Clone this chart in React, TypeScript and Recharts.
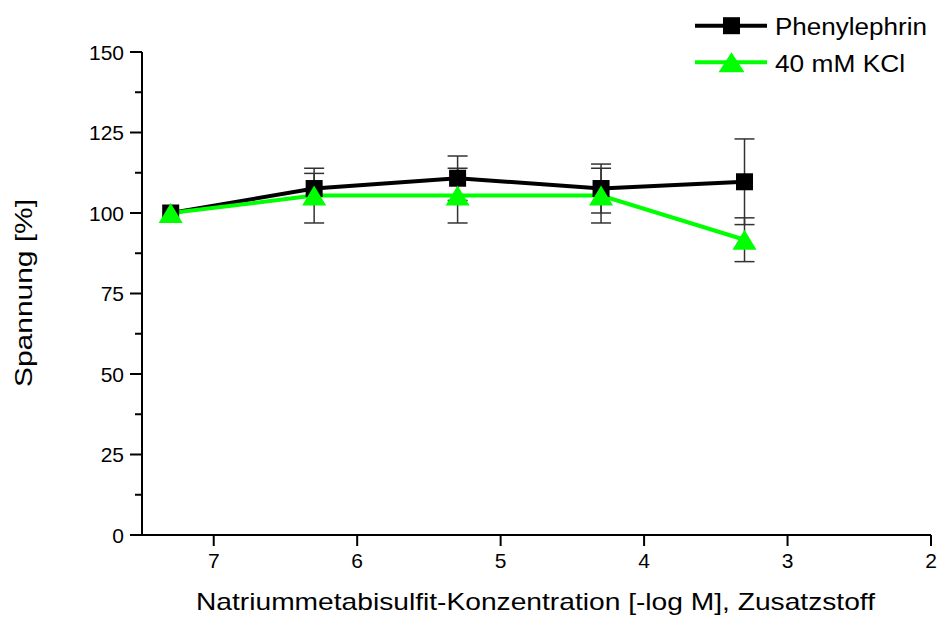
import { LineChart, Line, XAxis, YAxis, ErrorBar, Legend, Label } from 'recharts'

const concentrations = [7.3, 6.3, 5.3, 4.3, 3.3]
const phenylephrin = [100, 107.6, 110.8, 107.6, 109.7]
const phenylephrinErr = [0, 4.7, 6.9, 7.6, 13.3]
const kcl = [100, 105.4, 105.4, 105.4, 91.7]
const kclErr = [0, 8.5, 8.5, 8.5, 6.8]

const xTicks = [7, 6, 5, 4, 3, 2]
const yMajorTicks = [0, 25, 50, 75, 100, 125, 150]
const yMinorTicks = [12.5, 37.5, 62.5, 87.5, 112.5, 137.5]

const seriesNames = ['Phenylephrin', '40 mM KCl']
const xTitle = 'Natriummetabisulfit-Konzentration [-log M], Zusatzstoff'
const yTitle = 'Spannung [%]'

const data = concentrations.map((x, i) => ({
  x,
  phen: phenylephrin[i],
  phenErr: phenylephrinErr[i],
  kcl: kcl[i],
  kclErr: kclErr[i],
}))

const FONT = '"Liberation Sans", Arial, sans-serif'
const GREEN = '#00ff00'
const Y_TICK_SIZE = 12
const Y_TICK_MARGIN = 6

const SquareDot = (props: any) => {
  const { cx, cy, index } = props
  if (cx == null || cy == null) return <g key={`sq-${index}`} />
  return <rect key={`sq-${index}`} x={cx - 8.5} y={cy - 8.5} width={17} height={17} fill="#000" />
}

const TriangleDot = (props: any) => {
  const { cx, cy, index } = props
  if (cx == null || cy == null) return <g key={`tr-${index}`} />
  return (
    <polygon
      key={`tr-${index}`}
      points={`${cx},${cy - 10} ${cx + 12},${cy + 10} ${cx - 12},${cy + 10}`}
      fill={GREEN}
    />
  )
}

const YTick = (props: any) => {
  const { x, y, payload } = props
  const major = yMajorTicks.includes(payload.value)
  const axisX = x + Y_TICK_MARGIN + Y_TICK_SIZE
  return (
    <g>
      <line x1={axisX - (major ? 12 : 7)} x2={axisX} y1={y} y2={y} stroke="#000" strokeWidth={2} />
      {major && (
        <text x={x} y={y} dy="0.36em" textAnchor="end" fontSize={21} fontFamily={FONT} fill="#000">
          {payload.value}
        </text>
      )}
    </g>
  )
}

const legendLengths = [152, 130]

const LegendContent = (props: any) => {
  const { payload = [] } = props
  return (
    <svg width={250} height={80} style={{ display: 'block' }}>
      {payload.map((item: any) => {
        const i = seriesNames.indexOf(item.value)
        const cy = i === 0 ? 25.7 : 62.3
        const color = i === 0 ? '#000' : GREEN
        return (
          <g key={item.value}>
            <line x1={5} x2={77} y1={cy} y2={cy} stroke={color} strokeWidth={4} />
            {i === 0 ? (
              <rect x={33} y={cy - 8.5} width={17} height={17} fill="#000" />
            ) : (
              <polygon points={`41.5,${cy - 10} 54.5,${cy + 10} 28.5,${cy + 10}`} fill={GREEN} />
            )}
            <text
              x={85}
              y={cy + 9.5}
              fontSize={23}
              fontFamily={FONT}
              fill="#000"
              textLength={legendLengths[i]}
              lengthAdjust="spacingAndGlyphs"
            >
              {item.value}
            </text>
          </g>
        )
      })}
    </svg>
  )
}

export default function App() {
  return (
    <div style={{ position: 'absolute', left: 0, top: 0, width: 940, height: 642, background: '#fff' }}>
      <LineChart width={940} height={642} data={data} margin={{ top: 52, right: 9, bottom: 77, left: 0 }}>
        <XAxis
          dataKey="x"
          type="number"
          domain={[2, 7.5]}
          reversed
          ticks={xTicks}
          interval={0}
          height={30}
          tickSize={11}
          tickMargin={7}
          axisLine={{ stroke: '#000', strokeWidth: 2 }}
          tickLine={{ stroke: '#000', strokeWidth: 2 }}
          tick={{ fontSize: 21, fontFamily: FONT, fill: '#000' }}
        >
          <Label
            content={() => (
              <text
                x={535.5}
                y={610}
                textAnchor="middle"
                fontSize={24}
                fontFamily={FONT}
                fill="#000"
                textLength={679}
                lengthAdjust="spacingAndGlyphs"
              >
                {xTitle}
              </text>
            )}
          />
        </XAxis>
        <YAxis
          type="number"
          domain={[0, 150]}
          ticks={[...yMajorTicks, ...yMinorTicks].sort((a, b) => a - b)}
          interval={0}
          width={142}
          tickSize={Y_TICK_SIZE}
          tickMargin={Y_TICK_MARGIN}
          tickLine={false}
          axisLine={{ stroke: '#000', strokeWidth: 2 }}
          tick={<YTick />}
        >
          <Label
            content={() => (
              <text
                transform="rotate(-90)"
                x={-293}
                y={32}
                textAnchor="middle"
                fontSize={24}
                fontFamily={FONT}
                fill="#000"
                textLength={188}
                lengthAdjust="spacingAndGlyphs"
              >
                {yTitle}
              </text>
            )}
          />
        </YAxis>
        <Legend
          layout="vertical"
          align="center"
          verticalAlign="middle"
          wrapperStyle={{ top: 0, left: 690, width: 250 }}
          content={<LegendContent />}
        />
        <Line
          type="linear"
          dataKey="phen"
          name={seriesNames[0]}
          stroke="#000"
          strokeWidth={4}
          dot={SquareDot}
          activeDot={false}
          isAnimationActive={false}
        >
          <ErrorBar dataKey="phenErr" direction="y" width={10} stroke="#333" strokeWidth={1.5} />
        </Line>
        <Line
          type="linear"
          dataKey="kcl"
          name={seriesNames[1]}
          stroke={GREEN}
          strokeWidth={4}
          dot={TriangleDot}
          activeDot={false}
          isAnimationActive={false}
        >
          <ErrorBar dataKey="kclErr" direction="y" width={10} stroke="#333" strokeWidth={1.5} />
        </Line>
      </LineChart>
    </div>
  )
}
